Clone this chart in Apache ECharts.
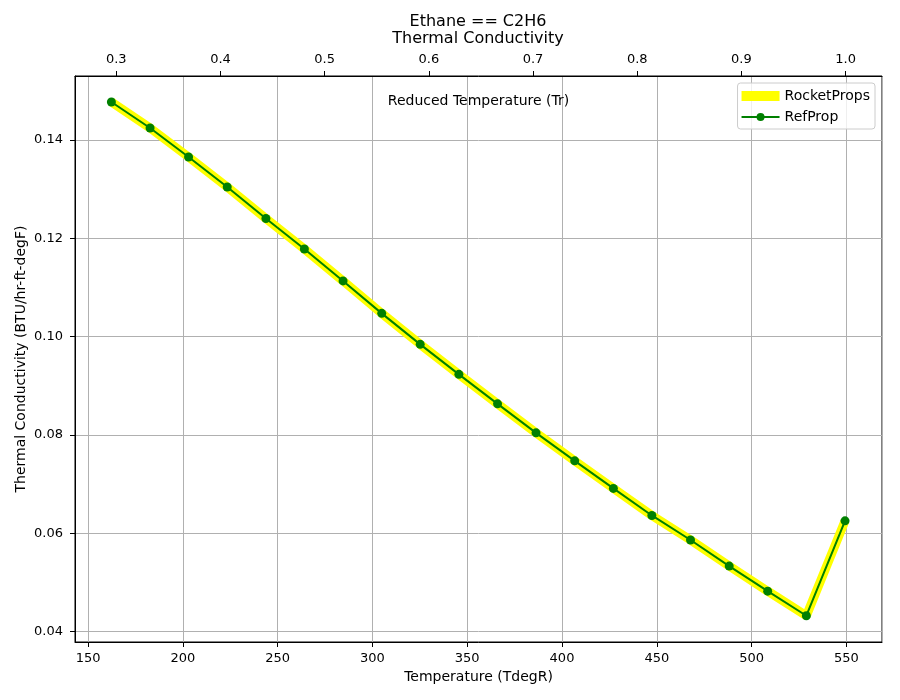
<!DOCTYPE html>
<html>
<head>
<meta charset="utf-8">
<script src="https://cdn.jsdelivr.net/npm/echarts@6/dist/echarts.min.js"></script>
<style>html,body{margin:0;padding:0;background:#fff}#c{width:900px;height:700px}</style>
</head>
<body>
<div id="c"></div>
<script>
// Temperature (degR)
const temperature = [162.3, 182.7, 203.0, 223.4, 243.8, 264.1, 284.5, 304.9, 325.2, 345.6,
                     366.0, 386.3, 406.7, 427.1, 447.4, 467.8, 488.2, 508.5, 528.9, 549.3];
// Thermal conductivity (BTU/hr-ft-degF)
const rocketProps = [0.1477, 0.1424, 0.1365, 0.1304, 0.1240, 0.1178, 0.1113, 0.1047, 0.0984, 0.0923,
                     0.0863, 0.0804, 0.0747, 0.0691, 0.0636, 0.0586, 0.0533, 0.0482, 0.0432, 0.0625];
const refProp     = [0.1477, 0.1424, 0.1365, 0.1304, 0.1240, 0.1178, 0.1113, 0.1047, 0.0984, 0.0923,
                     0.0863, 0.0804, 0.0747, 0.0691, 0.0636, 0.0586, 0.0533, 0.0482, 0.0432, 0.0625];
const Tc = 549.6;
const xMin = 143.1, xMax = 568.8;
const yMin = 0.03786, yMax = 0.15298;

const FONT = 'DejaVu Sans';
const chart = echarts.init(document.getElementById('c'), null, {renderer: 'canvas'});
const pair = arr => temperature.map((t, i) => [t, arr[i]]);

chart.setOption({
  animation: false,
  backgroundColor: '#fff',
  textStyle: {fontFamily: FONT},
  title: {
    text: 'Ethane == C2H6\nThermal Conductivity',
    left: 478, top: 13, padding: 0, textAlign: 'center',
    textStyle: {fontFamily: FONT, fontSize: 16, fontWeight: 'normal', color: '#000', lineHeight: 17}
  },
  grid: {left: 75, right: 18, top: 76, bottom: 58, show: true, borderColor: '#000', borderWidth: 1, containLabel: false},
  legend: {
    orient: 'vertical', right: 25, top: 83,
    backgroundColor: 'rgba(255,255,255,0.8)', borderColor: '#cccccc', borderWidth: 1, borderRadius: 3,
    padding: [6, 5, 5, 3], itemGap: 7, itemWidth: 38, itemHeight: 10, itemTextGap: 6,
    textStyle: {fontFamily: FONT, fontSize: 14, color: '#000'},
    data: [
      {name: 'RocketProps', icon: 'rect', itemStyle: {color: '#ffff00'}},
      {name: 'RefProp'}
    ]
  },
  xAxis: [
    {
      type: 'value', position: 'bottom', min: xMin, max: xMax, minInterval: 50, maxInterval: 50,
      name: 'Temperature (TdegR)', nameLocation: 'middle', nameGap: 27,
      nameTextStyle: {fontFamily: FONT, fontSize: 14, color: '#000'},
      axisLine: {show: true, lineStyle: {color: '#000', width: 1}},
      axisTick: {show: true, length: 5, lineStyle: {color: '#000'}},
      axisLabel: {margin: 10, fontFamily: FONT, fontSize: 13, color: '#000', showMinLabel: false, showMaxLabel: false,
                  formatter: v => (Math.abs(v / 50 - Math.round(v / 50)) < 1e-6 ? String(Math.round(v)) : '')},
      splitLine: {show: true, lineStyle: {color: '#b0b0b0', width: 1}}
    },
    {
      type: 'value', position: 'top', min: xMin / Tc, max: xMax / Tc, minInterval: 0.1, maxInterval: 0.1,
      name: 'Reduced Temperature (Tr)', nameLocation: 'middle', nameGap: -32,
      nameTextStyle: {fontFamily: FONT, fontSize: 14, color: '#000'},
      axisLine: {show: true, lineStyle: {color: '#000', width: 1}},
      axisTick: {show: true, length: 5, lineStyle: {color: '#000'}},
      axisLabel: {margin: 10, fontFamily: FONT, fontSize: 13, color: '#000', showMinLabel: false, showMaxLabel: false,
                  formatter: v => (Math.abs(v * 10 - Math.round(v * 10)) < 1e-6 ? v.toFixed(1) : '')},
      splitLine: {show: false}
    }
  ],
  yAxis: {
    type: 'value', min: yMin, max: yMax, minInterval: 0.02, maxInterval: 0.02,
    name: 'Thermal Conductivity (BTU/hr-ft-degF)', nameLocation: 'middle', nameGap: 47, nameRotate: 90,
    nameMoveOverlap: false,
    nameTextStyle: {fontFamily: FONT, fontSize: 14, color: '#000'},
    axisLine: {show: true, lineStyle: {color: '#000', width: 1}},
    axisTick: {show: true, length: 5, lineStyle: {color: '#000'}},
    axisLabel: {margin: 12, fontFamily: FONT, fontSize: 13, color: '#000', showMinLabel: false, showMaxLabel: false,
                formatter: v => (Math.abs(v / 0.02 - Math.round(v / 0.02)) < 1e-6 ? v.toFixed(2) : '')},
    splitLine: {show: true, lineStyle: {color: '#b0b0b0', width: 1}}
  },
  series: [
    {
      name: 'RocketProps', type: 'line', xAxisIndex: 0, data: pair(rocketProps),
      symbol: 'none', lineStyle: {color: '#ffff00', width: 9}, itemStyle: {color: '#ffff00'}, z: 2
    },
    {
      name: 'RefProp', type: 'line', xAxisIndex: 0, data: pair(refProp),
      symbol: 'circle', symbolSize: 9, showAllSymbol: true,
      lineStyle: {color: '#008000', width: 2}, itemStyle: {color: '#008000'}, z: 3
    }
  ]
});
</script>
</body>
</html>
